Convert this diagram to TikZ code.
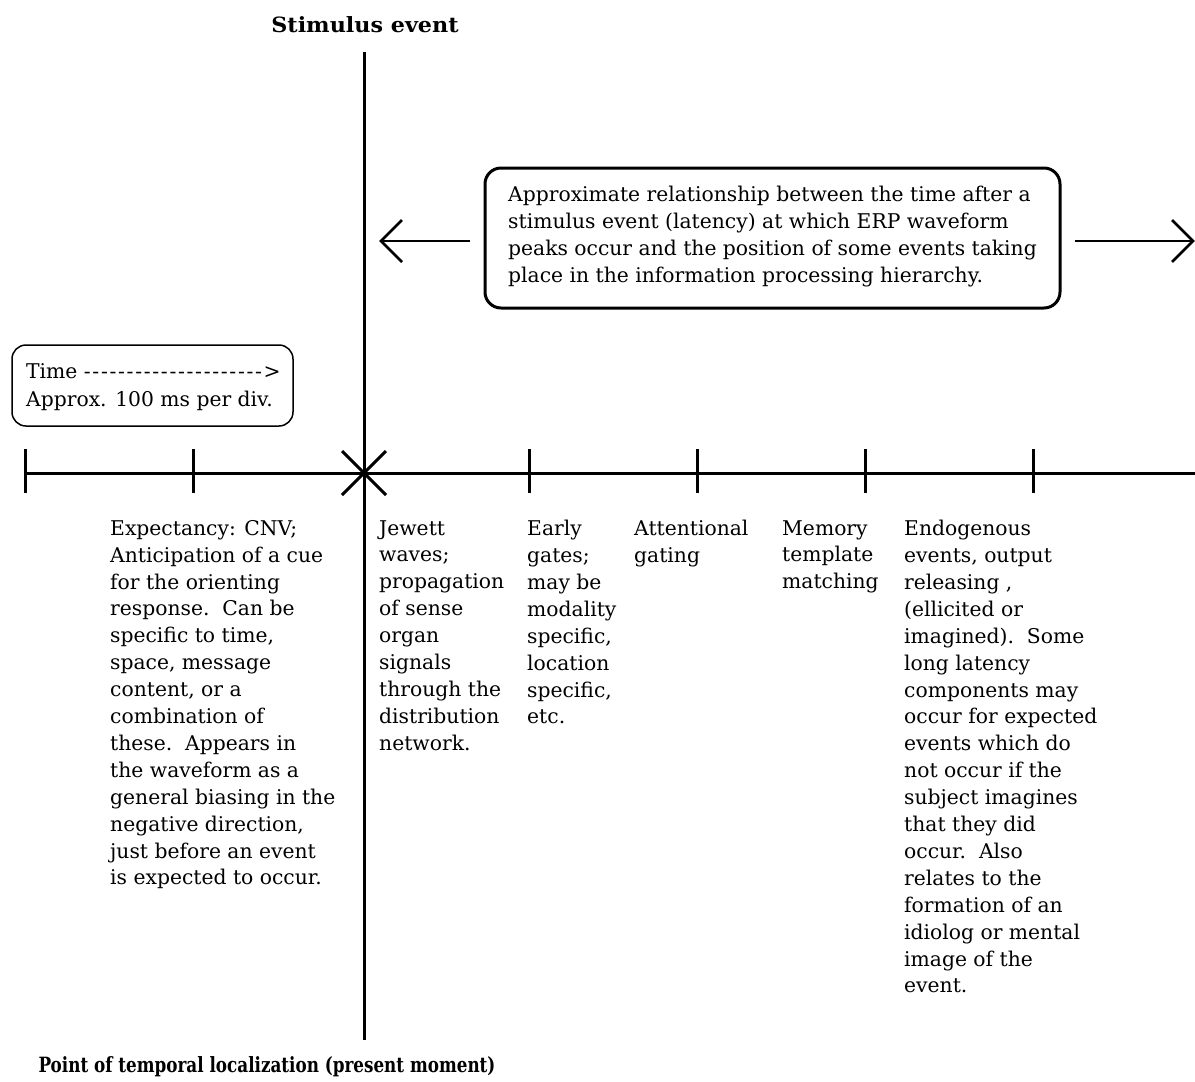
\documentclass[tikz,border=0pt]{standalone}
\usepackage{fontspec}
\setmainfont{DejaVu Serif}
% one dash of the dotted time arrow, spaced out and kept apart from its neighbours
\newcommand\dsh{-\kern1.7pt}
\begin{document}
\begin{tikzpicture}[x=1pt,y=-1pt,
  axisline/.style={line width=3pt},
  tickmark/.style={line width=3pt},
  txt/.style={anchor=north west,align=left,inner sep=0pt,
    font=\fontsize{20.3}{26.9}\selectfont},
  title/.style={inner sep=0pt,font=\fontsize{21}{24}\selectfont\bfseries},
  openarrow/.style={line width=2.5pt}]
\useasboundingbox (0,0) rectangle (1195,1082);

% titles
\node[title] (stim) at (365,25) {\scalebox{1.06}[1]{Stimulus event}};
\node[title] (point) at (267,1067) {\scalebox{0.80}[1]{Point of temporal localization (present moment)}};

% vertical line: the present moment
\coordinate (vtop) at (364,52);
\coordinate (vbot) at (364,1040);
\draw[axisline] (vtop) -- (vbot);

% time axis
\coordinate (axl) at (25,473);
\coordinate (axr) at (1195,473);
\draw[axisline] (axl) -- (axr);
\foreach \x/\n in {25/t0,193/t1,529/t3,697/t4,865/t5,1033/t6}{
  \coordinate (\n a) at (\x,449);
  \coordinate (\n b) at (\x,493);
  \draw[tickmark] (\n a) -- (\n b);
}
% cross at the stimulus event
\coordinate (xa) at (342,451);
\coordinate (xb) at (386,495);
\coordinate (xc) at (386,451);
\coordinate (xd) at (342,495);
\draw[tickmark] (xa) -- (xb);
\draw[tickmark] (xc) -- (xd);

% time scale box
\draw[line width=1.5pt,rounded corners=14pt] (12,345) rectangle (293,426);
\node[txt,font=\fontsize{20.3}{28}\selectfont] (timebox) at (26,363)
  {Time \dsh\dsh\dsh\dsh\dsh\dsh\dsh\dsh\dsh\dsh\dsh\dsh\dsh\dsh\dsh\dsh\dsh\dsh\dsh\dsh\dsh>\\Approx. 100 ms per div.};

% caption box
\draw[line width=3pt,rounded corners=16pt] (485,168) rectangle (1060,308);
\node[txt] (caption) at (508,186)
  {Approximate relationship between the time after a\\
   stimulus event (latency) at which ERP waveform\\
   peaks occur and the position of some events taking\\
   place in the information processing hierarchy.};

% arrows either side of the caption
\coordinate (la1) at (470,241);
\coordinate (la2) at (381,241);
\draw[openarrow] (la1) -- (la2);
\draw[openarrow] (402,220) -- (la2) -- (402,262);
\coordinate (ra1) at (1075,241);
\coordinate (ra2) at (1193,241);
\draw[openarrow] (ra1) -- (ra2);
\draw[openarrow] (1172,220) -- (ra2) -- (1172,262);

% column texts
\node[txt] (c1) at (110,520)
  {Expectancy: CNV;\\
   Anticipation of a cue\\
   for the orienting\\
   response.\ \ Can be\\
   specific to time,\\
   space, message\\
   content, or a\\
   combination of\\
   these.\ \ Appears in\\
   the waveform as a\\
   general biasing in the\\
   negative direction,\\
   just before an event\\
   is expected to occur.};
\node[txt] (c2) at (379,520)
  {Jewett\\ waves;\\ propagation\\ of sense\\ organ\\ signals\\ through the\\ distribution\\ network.};
\node[txt] (c3) at (527,520)
  {Early\\ gates;\\ may be\\ modality\\ specific,\\ location\\ specific,\\ etc.};
\node[txt] (c4) at (634,520)
  {Attentional\\ gating};
\node[txt] (c5) at (782,520)
  {Memory\\ template\\ matching};
\node[txt] (c6) at (904,520)
  {Endogenous\\
   events, output\\
   releasing ,\\
   (ellicited or\\
   imagined).\ \ Some\\
   long latency\\
   components may\\
   occur for expected\\
   events which do\\
   not occur if the\\
   subject imagines\\
   that they did\\
   occur.\ \ Also\\
   relates to the\\
   formation of an\\
   idiolog or mental\\
   image of the\\
   event.};
\end{tikzpicture}
\end{document}
